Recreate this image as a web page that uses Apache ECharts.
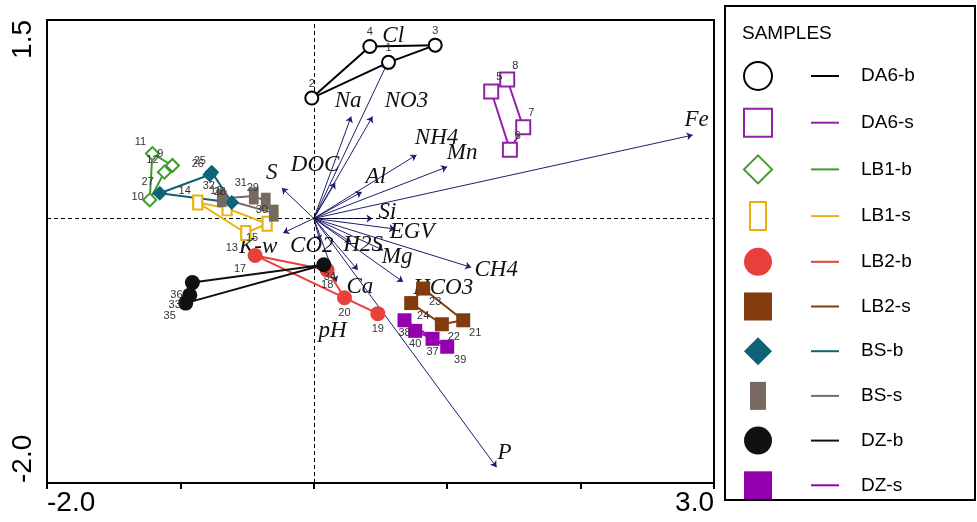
<!DOCTYPE html>
<html><head><meta charset="utf-8">
<script src="https://cdn.jsdelivr.net/npm/echarts@6/dist/echarts.min.js"></script>
<style>html,body{margin:0;padding:0;background:#fff}#c{width:977px;height:522px}</style>
</head><body><div id="c"></div>
<script>
// ---------------- DATA ----------------
const groupNames = ['DA6-b','DA6-s','LB1-b','LB1-s','LB2-b','LB2-s','BS-b','BS-s','DZ-b','DZ-s'];
const sampleIds = [1,2,3,4,5,6,7,8,9,10,11,12,13,14,15,16,17,18,19,20,21,22,23,24,25,26,27,28,29,30,31,32,33,34,35,36,37,38,39,40];
const sampleX = [0.56,-0.015,0.91,0.42, 1.33,1.47,1.57,1.45, -1.06,-1.23,-1.21,-1.12, -0.51,-0.87,-0.35,-0.65,
                 -0.44,0.10,0.48,0.23, 1.12,0.96,0.82,0.73, -0.765,-0.78,-1.155,-0.615, -0.36,-0.30,-0.45,-0.69,
                 -0.93,0.075,-0.96,-0.91, 0.89,0.68,1.0,0.76];
const sampleY = [1.18,0.91,1.31,1.30, 0.96,0.52,0.69,1.05, 0.40,0.14,0.49,0.35, -0.11,0.12,-0.04,0.076,
                 -0.28,-0.39,-0.72,-0.60, -0.77,-0.80,-0.53,-0.64, 0.35,0.33,0.19,0.12, 0.13,0.04,0.17,0.15,
                 -0.58,-0.35,-0.64,-0.485, -0.91,-0.77,-0.97,-0.85];
// outline order (sample ids) for each group
const outlineDA6b = [2,4,3,1,2];
const outlineDA6s = [5,8,7,6,5];
const outlineLB1b = [11,9,12,10,11];
const outlineLB1s = [14,16,15,13,14];
const outlineLB2b = [17,18,20,19,17];
const outlineLB2s = [23,21,22,24,23];
const outlineBSb  = [25,26,27,28,25];
const outlineBSs  = [32,31,29,30,32];
const outlineDZb  = [34,36,33,35,34];
const outlineDZs  = [38,40,37,39,38];
const outlines = [outlineDA6b,outlineDA6s,outlineLB1b,outlineLB1s,outlineLB2b,outlineLB2s,outlineBSb,outlineBSs,outlineDZb,outlineDZs];

const varNames = ['Fe','P','CH4','Mn','NH4','NO3','Na','Cl','DOC','S','Al','Si','EGV','Mg','H2S','CO2','K-w','Ca','pH','HCO3'];
const varX = [2.84,1.37,1.18,1.00,0.77,0.44,0.28,0.55,0.16,-0.24,0.36,0.44,0.61,0.52,0.28,0.045,-0.23,0.33,0.17,0.67];
const varY = [0.63,-1.88,-0.37,0.39,0.48,0.77,0.77,1.17,0.27,0.23,0.20,0.00,-0.08,-0.24,-0.18,-0.17,-0.11,-0.39,-0.48,-0.48];

const xTickLabels = {'-2': '-2.0', '3': '3.0'};
const yTickLabels = {'-2': '-2.0', '1.5': '1.5'};

// ---------------- STYLE ----------------
const colors = ['#000000','#9420a8','#3f9a2c','#eab20f','#e8403a','#823b0d','#0f6277','#786a60','#111111','#9400ae'];
const narrowRect = 'path://M0,0M28,28M6,0L22,0L22,28L6,28Z';
const symbols = ['circle','rect','diamond',narrowRect,'circle','rect','diamond',narrowRect,'circle','rect'];
const symSizes = [13,14,13,[16,14],15,14,15,[17,17],15,14];
const hollow = [true,true,true,true,false,false,false,false,false,false];
const grpLabelOff = [[0,-14],[8,-14],[-12,-12],[-13,-12],[0,15],[12,13],[-12,-11],[-13,-13],[-15,12],[0,13]];
const idLabelOff = {10:[-12,-3],13:[-14,15],15:[-15,14],16:[-11,-17],17:[-15,14],30:[-12,-3],34:[6,12],39:[13,13],35:[-16,13],33:[-15,10],36:[-16,12]};
const varLabelOff = {'Fe':[4,-15],'P':[8,-14],'CH4':[25,3],'Mn':[15,-14],'NH4':[20,-17],'NO3':[34,-16],'Na':[-3,-16],
  'Cl':[6,-28],'DOC':[-20,-18],'S':[-10,-15],'Al':[14,-15],'Si':[15,-6],'EGV':[17,3],'Mg':[14,7],'H2S':[12,3],
  'CO2':[-8,5],'K-w':[-25,14],'Ca':[2,17],'pH':[-4,49],'HCO3':[40,6]};

const chart = echarts.init(document.getElementById('c'));
const series = [];

// arrows + dashed zero lines
series.push({
  type:'lines', coordinateSystem:'cartesian2d', z:3, silent:true,
  symbol:['none','arrow'], symbolSize:6,
  lineStyle:{color:'#1e1e6e', width:1, opacity:1},
  data: varNames.map((n,i)=>({coords:[[0,0],[varX[i],varY[i]]]}))
});
series.push({
  type:'scatter', name:'vars', z:4, silent:true, symbolSize:1,
  itemStyle:{color:'rgba(0,0,0,0)', opacity:1},
  label:{show:true, position:'inside', formatter:p=>p.name, color:'#111', opacity:1,
    fontFamily:'Liberation Serif', fontStyle:'italic', fontSize:23},
  data: varNames.map((n,i)=>({name:n, value:[varX[i],varY[i]], label:{offset:varLabelOff[n]}})),
  markLine:{silent:true, symbol:['none','none'], label:{show:false},
    lineStyle:{color:'#000', type:[4,3], width:1},
    data:[{xAxis:0},{yAxis:0}]}
});

groupNames.forEach((g,gi)=>{
  const ord = outlines[gi];
  series.push({
    type:'line', name:g+'_outline', z:5, silent:true, symbol:'none',
    lineStyle:{color:colors[gi], width:2, opacity:1},
    data: ord.map(id=>[sampleX[id-1], sampleY[id-1]])
  });
  const ids = sampleIds.filter(id=>outlines[gi].indexOf(id)>=0);
  series.push({
    type:'scatter', name:g, z:6, symbol:symbols[gi], symbolSize:symSizes[gi],
    itemStyle: hollow[gi] ? {color:'#ffffff', borderColor:colors[gi], borderWidth:2, opacity:1} : {color:colors[gi], borderColor:colors[gi], borderWidth:0, opacity:1},
    label:{show:true, position:'inside', formatter:p=>String(p.value[2]), color:'#333',
      fontFamily:'Liberation Sans', fontSize:11},
    data: ids.map(id=>({value:[sampleX[id-1], sampleY[id-1], id],
      label:{offset: idLabelOff[id] || grpLabelOff[gi]}}))
  });
});

const rich = {s:{width:34}, s2:{width:22}, n:{fontSize:19, fontFamily:'Liberation Sans', color:'#000'}};
colors.forEach((c,i)=>{ rich['d'+i] = {width:28, height:2, backgroundColor:c}; });

chart.setOption({
  animation:false,
  backgroundColor:'#fff',
  title:{text:'SAMPLES', left:737, top:19, textStyle:{fontSize:19, fontWeight:'normal', fontFamily:'Liberation Sans', color:'#000'}},
  grid:{left:47, right:263, top:20, bottom:39, show:true, borderColor:'#000', borderWidth:2},
  xAxis:{type:'value', min:-2, max:3, interval:1, splitLine:{show:false},
    axisLine:{show:true, onZero:false, lineStyle:{color:'#000', width:2}},
    axisTick:{show:true, length:6, lineStyle:{color:'#000', width:2}},
    axisLabel:{fontSize:28, color:'#000', fontFamily:'Liberation Sans', margin:6,
      alignMinLabel:'left', alignMaxLabel:'right',
      formatter:v=>xTickLabels[String(v)]||''}},
  yAxis:{type:'value', min:-2, max:1.5, interval:0.5, splitLine:{show:false},
    axisLine:{show:true, onZero:false, lineStyle:{color:'#000', width:2}},
    axisTick:{show:false},
    axisLabel:{fontSize:28, color:'#000', fontFamily:'Liberation Sans', margin:10, rotate:90,
      alignMinLabel:'left', alignMaxLabel:'right',
      formatter:v=>yTickLabels[String(v)]||''}},
  legend:{orient:'vertical', left:743, top:61, padding:0, itemWidth:28, itemHeight:28, itemGap:16.7,
    data:groupNames, selectedMode:false,
    formatter: name=>{const i=groupNames.indexOf(name); return '{s| }{d'+i+'| }{s2| }{n|'+name+'}';},
    textStyle:{rich:rich}},
  graphic:[{type:'rect', shape:{x:725, y:6, width:250, height:494}, style:{fill:'none', stroke:'#000', lineWidth:2}, silent:true}],
  series: series
});
</script></body></html>
